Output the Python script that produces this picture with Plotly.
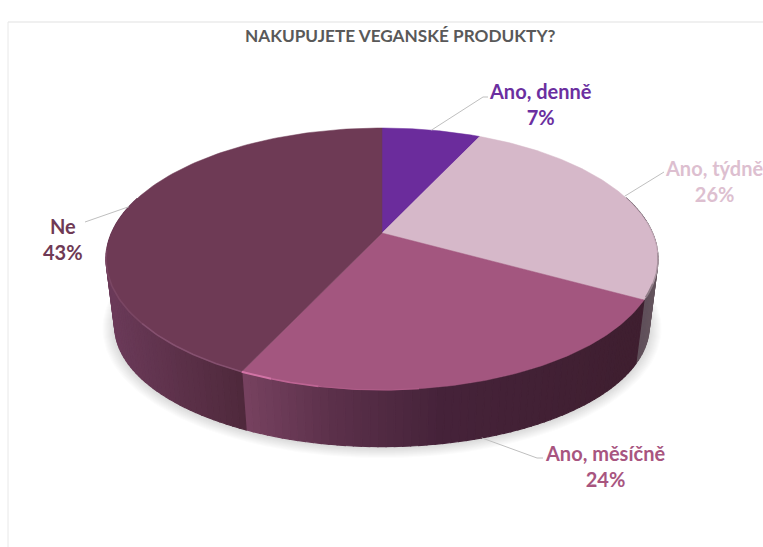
import numpy as np
import plotly.graph_objects as go

TITLE = "NAKUPUJETE VEGANSKÉ PRODUKTY?"
categories = ["Ano, denně", "Ano, týdně", "Ano, měsíčně", "Ne"]
values = [7, 26, 24, 43]
top_colors = ["#6B2C9C", "#D6B8C9", "#A3567F", "#6E3A55"]
label_colors = ["#6B2FA0", "#DDBFD0", "#A8557F", "#6F3A55"]
label_centers = [(540, 104), (714, 181), (605, 466), (63, 239)]
leader_ends = [[(483, 97), (488, 97)], [(664, 172)], [(537, 458), (543, 458)], [(85, 222)]]

# side wall colour stops: (screen x, colour) per slice
wall_stops = [
    [(380, "#4a2638"), (480, "#4a2638")],
    [(630, "#5A4A56"), (660, "#66565F")],
    [(243, "#774260"), (330, "#5C314B"), (440, "#46233A"), (640, "#3F1F30")],
    [(105, "#6C3B5A"), (180, "#5C3149"), (243, "#4F293C")],
]

W, H = 763, 547
CX, CY, AX, BY, K = 382, 233, 270.5, 125.8, 0.198
LOW_Y, LOW_A, LOW_B = 302, 262, 116


def project(theta, cy=CY, a=AX, b=BY, r=1.0):
    """Perspective projection of a point on the pie rim; theta clockwise from the top."""
    u, v = r * np.sin(theta), -r * np.cos(theta)
    d = 1 - K * v
    return 382 + a * u / d, cy + b * v / d


def rgb(h):
    return np.array([int(h[i:i + 2], 16) for i in (1, 3, 5)], float)


def interp_color(stops, x):
    xs = [s[0] for s in stops]
    cs = np.array([rgb(s[1]) for s in stops])
    c = [np.interp(x, xs, cs[:, i]) for i in range(3)]
    return "rgb(%d,%d,%d)" % tuple(c)


cum = np.cumsum([0] + values) / sum(values) * 2 * np.pi
fig = go.Figure()

# soft drop shadow
t = np.linspace(0, 2 * np.pi, 240)
for grow in range(1, 13):
    x, y = project(t, LOW_Y + 1, LOW_A + grow, LOW_B + grow * 0.7)
    fig.add_trace(go.Scatter(x=x, y=y, mode="lines", line=dict(width=0), fill="toself",
                             fillcolor="rgba(60,60,60,0.014)", hoverinfo="skip", showlegend=False))

# side walls as thin strips
for i, cat in enumerate(categories):
    a0, a1 = cum[i], cum[i + 1]
    n = max(2, int((a1 - a0) / 0.025))
    edges = np.linspace(a0, a1, n + 1)
    for e0, e1 in zip(edges[:-1], edges[1:]):
        mid = (e0 + e1) / 2
        if -np.cos(mid) < -0.3:
            continue
        tt = np.array([e0, e1])
        xt, yt = project(tt)
        xb, yb = project(tt[::-1], LOW_Y, LOW_A, LOW_B)
        col = interp_color(wall_stops[i], float(np.mean(xt)))
        fig.add_trace(go.Scatter(x=np.r_[xt, xb, xt[0]], y=np.r_[yt, yb, yt[0]], mode="lines",
                                 line=dict(color=col, width=1.2), fill="toself", fillcolor=col,
                                 hoverinfo="skip", showlegend=False))

# top faces
for i, cat in enumerate(categories):
    tt = np.linspace(cum[i], cum[i + 1], 120)
    x, y = project(tt)
    fig.add_trace(go.Scatter(x=np.r_[CX, x, CX], y=np.r_[CY, y, CY], mode="lines",
                             line=dict(color=top_colors[i], width=0.5), fill="toself",
                             fillcolor=top_colors[i], name=cat,
                             text="%s %d%%" % (cat, values[i]), hoverinfo="text", showlegend=False))

# bevel highlights on the front rim
rim = [
    (cum[3], cum[3] + 0.45, "#85506F", 1.6),
    (cum[3] + 0.45, cum[3] + 1.0, "#7A4663", 1.6),
    (cum[3] - 0.10, cum[3], "#D274A6", 2.0),
    (cum[3] - 0.25, cum[3] - 0.10, "#BE6594", 1.6),
    (cum[3] - 0.55, cum[3] - 0.25, "#AE5C87", 1.2),
    (cum[2] - 0.12, cum[2] - 0.02, "#8E7C86", 2.0),
    (cum[2] - 0.35, cum[2] - 0.12, "#A8949F", 1.4),
    (cum[2] - 0.60, cum[2] - 0.35, "#C4ABB9", 1.0),
]
for a0, a1, col, w in rim:
    x, y = project(np.linspace(a0, a1, 30))
    fig.add_trace(go.Scatter(x=x, y=y, mode="lines", line=dict(color=col, width=w),
                             hoverinfo="skip", showlegend=False))

# leader lines start on the rim at each slice's mid angle
for i, ends in enumerate(leader_ends):
    mid = (cum[i] + cum[i + 1]) / 2
    if -np.cos(mid) > 0.5:
        sx, sy = project(mid, LOW_Y, LOW_A, LOW_B)
    else:
        sx, sy = project(mid)
    xs = [float(sx)] + [p[0] for p in ends]
    ys = [float(sy)] + [p[1] for p in ends]
    fig.add_trace(go.Scatter(x=xs, y=ys, mode="lines", line=dict(color="#BFBFBF", width=1),
                             hoverinfo="skip", showlegend=False))

annotations = [
    dict(x=lx, y=ly, xref="x", yref="y", showarrow=False, align="center",
         text="<b>%s<br>%d%%</b>" % (cat, val),
         font=dict(family="Lato, Carlito, sans-serif", size=20, color=col))
    for cat, val, col, (lx, ly) in zip(categories, values, label_colors, label_centers)
]
annotations.append(dict(x=400, y=35, xref="x", yref="y", showarrow=False, text="<b>%s</b>" % TITLE,
                        font=dict(family="Lato, Carlito, sans-serif", size=17.2, color="#595959")))

fig.update_layout(
    width=W, height=H, autosize=False,
    margin=dict(l=0, r=0, t=0, b=0),
    paper_bgcolor="white", plot_bgcolor="white",
    xaxis=dict(range=[0, W], visible=False, fixedrange=True),
    yaxis=dict(range=[H, 0], visible=False, fixedrange=True),
    annotations=annotations,
    shapes=[
        dict(type="line", x0=8, x1=W, y0=22, y1=22, line=dict(color="#E2E2E2", width=1.2)),
        dict(type="line", x0=8, x1=8, y0=22, y1=H, line=dict(color="#E8E8E8", width=1)),
    ],
)
fig.write_html("out.html", config={"displayModeBar": False},
               post_script="document.body.style.margin='0';document.documentElement.style.overflow='hidden';")
